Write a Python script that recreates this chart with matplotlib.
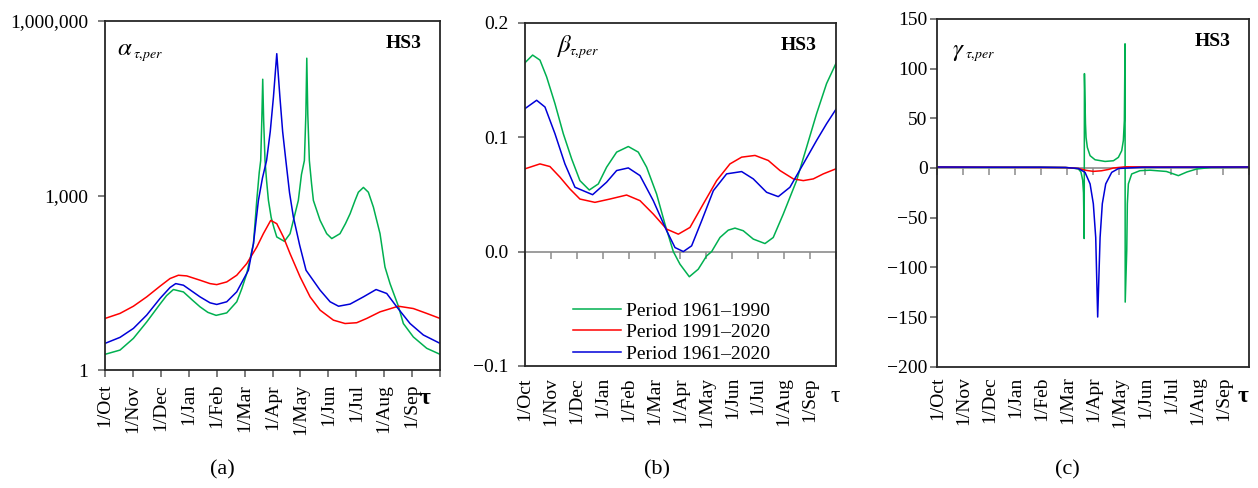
import numpy as np
import matplotlib
matplotlib.use('Agg')
import matplotlib.pyplot as plt
from matplotlib.ticker import NullLocator

plt.rcParams['font.family'] = ['Liberation Serif', 'DejaVu Serif']
plt.rcParams['mathtext.fontset'] = 'stix'
plt.rcParams['axes.unicode_minus'] = True

# tick labels on the time axis (12 equal steps over the hydrological year)
months = ['1/Oct', '1/Nov', '1/Dec', '1/Jan', '1/Feb', '1/Mar',
          '1/Apr', '1/May', '1/Jun', '1/Jul', '1/Aug', '1/Sep']
periods = ['Period 1961\u20131990', 'Period 1991\u20132020', 'Period 1961\u20132020']
colors = ['#00b050', '#ff0000', '#0000d8']

# ---- (a) alpha, log scale; x = day of the year counted from 1 Oct ----
alpha_green_day = [0, 16.3, 30.9, 45.4, 59.9, 67, 74.5, 85.4, 95, 103.5, 112, 121, 132.6, 143.5,
                   149, 154.4, 161.7, 165.3, 168, 169.6, 170.8, 171.8, 172.8, 174.3, 176, 178,
                   181, 184, 187.1, 195.4, 201.6, 207, 210.6, 214, 217.2, 218.8, 219.8, 220.9,
                   222.6, 225, 227, 234.3, 241.5, 247, 256, 262, 267, 272.4, 276, 281.5, 286.9,
                   292.4, 299.6, 305, 310.5, 319.6, 325, 335.9, 350.5, 365]
alpha_green = [1.86, 2.2, 3.5, 6.7, 13.6, 19, 24.2, 22, 16, 12.2, 9.8, 8.7, 9.6, 14.9,
               25, 45.5, 149, 824, 2500, 4000, 20000, 100000, 20000, 4000, 1800, 830,
               420, 280, 194, 163, 221, 487, 824, 2300, 4000, 25000, 230000, 25000,
               4000, 1600, 824, 374, 221, 182, 221, 330, 487, 824, 1140, 1380, 1140,
               631, 221, 59, 30.6, 12.5, 6.3, 3.7, 2.36, 1.86]
alpha_red_day = [0, 16.3, 30.9, 45.4, 59.9, 70.8, 79.9, 89, 103.5, 114.4, 121.7, 132.6, 143.5,
                 154.4, 165.3, 172.5, 180.5, 187.1, 194.3, 201.6, 212.5, 223.4, 234.3, 248.8,
                 261.5, 274.2, 285.1, 299.6, 319.6, 335.9, 350.5, 365]
alpha_red = [7.7, 9.4, 12.5, 18.1, 27.6, 37.4, 42.6, 41.5, 35, 30.6, 29.4, 32.7, 42.6,
             67.6, 130, 221, 374, 328, 194, 100, 39.9, 18.1, 10.7, 7.2,
             6.3, 6.5, 7.7, 10, 12.5, 11.4, 9.4, 7.7]
alpha_blue_day = [0, 16.3, 30.9, 45.4, 59.9, 70.8, 77, 85.4, 103.5, 114.4, 121.7, 132.6, 143.5,
                  156.2, 161.7, 167.1, 171.5, 176, 180, 183.5, 187.1, 190.5, 193.5, 197, 201,
                  205.2, 212, 219, 234.3, 245.2, 254.4, 267, 281.5, 295.3, 306.9, 317.8, 332.3,
                  346.8, 365]
alpha_blue = [2.87, 3.64, 5.19, 8.8, 17, 26.2, 30.6, 28.7, 18.1, 14.3, 13.4, 14.9, 22.1,
              51.9, 149, 824, 2000, 4000, 12600, 50000, 275000, 50000, 12600, 4000, 1120,
              427, 141, 51.9, 23.6, 14.9, 12.5, 13.6, 18.1, 24.2, 20.7, 12.2, 6.3,
              4.0, 2.87]

# ---- (b) beta ----
beta_green_day = [0, 9, 17.6, 25.4, 35.2, 45, 54.8, 64.5, 75.5, 86.1, 95.8, 107.6, 121.3, 133,
                  142.8, 154.5, 164.3, 174.1, 181.9, 192.9, 203.4, 213.2, 219.1, 228.9, 238.6,
                  246.5, 256.2, 268, 281.7, 291.4, 303.2, 318.8, 330.6, 342.3, 354, 365]
beta_green = [0.165, 0.1717, 0.1673, 0.1527, 0.1293, 0.103, 0.081, 0.062, 0.0538, 0.0591,
              0.0737, 0.0869, 0.0918, 0.0869, 0.0737, 0.0503, 0.024, 0.0, -0.011, -0.022,
              -0.0154, -0.0038, 0.0, 0.0123, 0.0187, 0.0205, 0.0182, 0.0109, 0.007, 0.0123,
              0.0328, 0.062, 0.0913, 0.1205, 0.1468, 0.1644]
beta_red_day = [0, 17.6, 29.3, 41.1, 52.8, 64.5, 82.1, 99.7, 119.3, 135, 150.6, 166.3, 180,
                193.7, 209.3, 225, 240.6, 254.3, 270, 285.6, 299.3, 315, 326.7, 338.4, 350.2, 365]
beta_red = [0.0723, 0.0766, 0.0743, 0.065, 0.0547, 0.0459, 0.043, 0.0459, 0.0494, 0.0445,
            0.0328, 0.0196, 0.0152, 0.0211, 0.0416, 0.062, 0.0766, 0.0825, 0.084, 0.0796,
            0.0708, 0.0635, 0.062, 0.0635, 0.0679, 0.0723]
beta_blue_day = [0, 13.7, 23.5, 35.2, 46.9, 58.7, 79.4, 95.8, 107.6, 121.3, 135, 150.6, 166.3,
                 176.1, 185.9, 195.6, 207.4, 221.1, 236.7, 254.3, 268, 283.6, 297.3, 311,
                 326.7, 342.3, 354, 365]
beta_blue = [0.1249, 0.1322, 0.1263, 0.103, 0.0766, 0.0562, 0.0497, 0.0606, 0.0708, 0.0731,
             0.0664, 0.0445, 0.0182, 0.0035, 0.0, 0.005, 0.0269, 0.0532, 0.0679, 0.0699,
             0.0635, 0.0518, 0.048, 0.0562, 0.0766, 0.0971, 0.1117, 0.1243]

# ---- (c) gamma ----
gamma_green_day = [0, 60, 120, 150, 160, 165, 168, 170, 171, 171.8, 172.1, 173.3, 174, 175.5,
                   178.7, 184.5, 196.2, 206, 211.8, 215.7, 217.6, 218.8, 219.6, 219.8, 221.6,
                   222.3, 223.5, 227.4, 237, 249, 268, 282, 292, 303.5, 320, 365]
gamma_green = [0.8, 0.7, 0.8, 0.5, -0.3, -1, -4, -12, -25, -71, 95, 45, 30.8, 20.7,
               12.4, 8.3, 6.6, 7.3, 10.7, 17.4, 27.5, 47.6, 125, -135, -83,
               -36, -16, -6, -2.7, -2.2, -3.5, -7.7, -4, -1, 0.5, 0.8]
gamma_red_day = [0, 150, 165, 175, 182.5, 192, 200, 206, 220, 260, 365]
gamma_red = [1, 0.5, -0.5, -2.5, -3.4, -2.8, -1.5, 0, 1.2, 1, 1]
gamma_blue_day = [0, 60, 120, 150, 165, 172.8, 178.7, 182.5, 185.3, 187.6, 190.4, 193, 197, 204,
                  212, 240, 365]
gamma_blue = [1.0, 0.8, 0.8, 0.5, -0.5, -4.4, -16, -36, -70, -150, -70, -36, -16, -4.4,
              -0.5, 0.8, 1.0]

xt = np.arange(13) * 365 / 12
W, H = 1258, 488

fig = plt.figure(figsize=(12.58, 4.88), dpi=100)
ax_a = fig.add_axes([0.0835, 0.2418, 0.2663, 0.715])
ax_b = fig.add_axes([0.4173, 0.25, 0.2472, 0.7035])
ax_c = fig.add_axes([0.7451, 0.2486, 0.248, 0.7125])


def frame(ax, ypad, xpad):
    ax.set_xlim(0, 365)
    for s in ax.spines.values():
        s.set_color('#262626')
        s.set_linewidth(1.3)
    ax.tick_params(axis='y', direction='out', length=5, width=1.1, color='#595959',
                   labelsize=14, pad=ypad)
    ax.set_xticks(xt)
    ax.set_xticklabels(months + [''], rotation=90, fontsize=14)
    ax.tick_params(axis='x', direction='out', length=5, width=1.1, color='#595959', pad=xpad)


def zero_line(ax, ymin, ymax):
    # the category axis crosses at y = 0, its labels stay at the bottom
    sec = ax.secondary_xaxis((0 - ymin) / (ymax - ymin))
    sec.set_alignment('bottom')
    sec.set_xticks(xt)
    sec.tick_params(axis='x', direction='out', length=5, width=1.1, color='#8c8c8c',
                    labelbottom=False, labeltop=False)
    for s in sec.spines.values():
        s.set_color('#8c8c8c')
        s.set_linewidth(1.2)
    ax.tick_params(axis='x', length=0)


def coef_label(sym, x, y, xs, ys):
    # big greek letter with a small "tau,per" subscript (pixel positions)
    fig.text(x / W, 1 - y / H, sym, fontsize=18, va='baseline')
    fig.text(xs / W, 1 - ys / H, r'$\tau,\!per$', fontsize=10, va='baseline')


# (a)
for d, v, c in zip([alpha_green_day, alpha_red_day, alpha_blue_day],
                   [alpha_green, alpha_red, alpha_blue], colors):
    ax_a.plot(d, v, color=c, lw=1.1)
ax_a.set_yscale('log')
ax_a.set_ylim(1, 1e6)
ax_a.set_yticks([1, 1e3, 1e6])
ax_a.set_yticklabels(['1', '1,000', '1,000,000'])
ax_a.yaxis.set_minor_locator(NullLocator())
frame(ax_a, 7, 5)
coef_label(r'$\alpha$', 117, 55, 133, 58)

# (b)
for d, v, c, lab in zip([beta_green_day, beta_red_day, beta_blue_day],
                        [beta_green, beta_red, beta_blue], colors, periods):
    ax_b.plot(d, v, color=c, lw=1.1, label=lab)
ax_b.set_ylim(-0.1, 0.2)
ax_b.set_yticks([-0.1, 0.0, 0.1, 0.2])
ax_b.set_yticklabels(['\u22120.1', '0.0', '0.1', '0.2'])
frame(ax_b, 7, 8)
zero_line(ax_b, -0.1, 0.2)
coef_label(r'$\beta$', 556, 52, 569, 55)
ax_b.legend(loc='lower left', bbox_to_anchor=(0.11, -0.03), frameon=False, fontsize=14,
            handlelength=2.5, handletextpad=0.25, labelspacing=0.2, borderpad=0.2)

# (c)
for d, v, c in zip([gamma_green_day, gamma_red_day, gamma_blue_day],
                   [gamma_green, gamma_red, gamma_blue], colors):
    ax_c.plot(d, v, color=c, lw=1.1)
ax_c.set_ylim(-200, 150)
ax_c.set_yticks(np.arange(-200, 151, 50))
ax_c.set_yticklabels([str(v).replace('-', '\u2212') for v in range(-200, 151, 50)])
frame(ax_c, 2, 7)
zero_line(ax_c, -200, 150)
coef_label(r'$\gamma$', 952, 56, 965, 58)

for ax in (ax_a, ax_b, ax_c):
    w = ax.get_position().width * W
    ax.text(1 - 19 / w, 0.935, 'HS3', transform=ax.transAxes, ha='right', va='center',
            fontsize=14, fontweight='bold')

fig.text(425 / W, 1 - 398 / H, '\u03c4', fontsize=17, fontweight='bold', ha='center', va='center')
fig.text(835 / W, 1 - 396 / H, '\u03c4', fontsize=17, ha='center', va='center')
fig.text(1243 / W, 1 - 397 / H, '\u03c4', fontsize=17, fontweight='bold', ha='center', va='center')

for lab, x in zip(['(a)', '(b)', '(c)'], [222, 657, 1067]):
    fig.text(x / W, 1 - 470 / H, lab, fontsize=16, ha='center', va='center')

fig.savefig('out.png', dpi=100)
